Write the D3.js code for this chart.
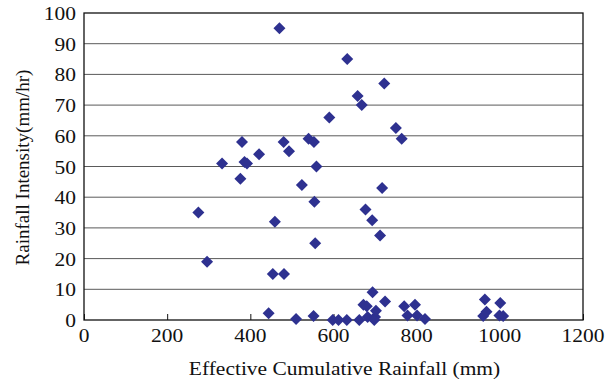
<!DOCTYPE html>
<html>
<head>
<meta charset="utf-8">
<script src="https://cdn.jsdelivr.net/npm/d3@7"></script>
<style>
  body { margin: 0; background: #fff; }
  text { font-family: "Liberation Serif", "Times New Roman", serif; fill: #111; }
</style>
</head>
<body>
<div id="chart"></div>
<script>
// Effective cumulative rainfall (mm)
const rainfall = [275, 296, 332, 376, 380, 386, 392, 421, 444, 454, 459, 470, 480, 481, 493,
  510, 524, 540, 552, 554, 553, 556, 559, 590, 598, 612, 632, 633, 658, 662, 668,
  672, 677, 680, 682, 694, 693, 700, 698, 702, 712, 717, 722, 724, 750, 764,
  770, 778, 796, 801, 820, 964, 960, 968, 1001, 999, 1008];
// Rainfall intensity (mm/hr)
const intensity = [35, 19, 51, 46, 58, 51.5, 51, 54, 2.2, 15, 32, 95, 58, 15, 55,
  0.3, 44, 59, 1.3, 38.5, 58, 25, 50, 66, 0, 0, 0, 85, 73, 0, 70,
  5, 36, 4.5, 1, 9, 32.5, 1, 0, 3, 27.5, 43, 77, 6, 62.5, 59,
  4.5, 1.5, 5, 1.5, 0.3, 6.7, 1.3, 2.7, 5.5, 1.5, 1.3];
const xTicks = [0, 200, 400, 600, 800, 1000, 1200];
const yTicks = [0, 10, 20, 30, 40, 50, 60, 70, 80, 90, 100];

const width = 608, height = 381;
const margin = {top: 13, right: 25, bottom: 61, left: 84};
const stretch = 1.13; // the original picture is a little wider than tall

const svg = d3.select("#chart").append("svg")
    .attr("width", width)
    .attr("height", height);

const x = d3.scaleLinear().domain([0, 1200]).range([margin.left, width - margin.right]);
const y = d3.scaleLinear().domain([0, 100]).range([height - margin.bottom, margin.top]);

// gridlines
svg.append("g")
    .selectAll("line")
    .data(yTicks.slice(1, -1))
    .join("line")
    .attr("x1", x(0)).attr("x2", x(1200))
    .attr("y1", d => y(d)).attr("y2", d => y(d))
    .attr("stroke", "#5a5a5a")
    .attr("stroke-width", 1);

// frame
svg.append("rect")
    .attr("x", x(0)).attr("y", y(100))
    .attr("width", x(1200) - x(0))
    .attr("height", y(0) - y(100))
    .attr("fill", "none")
    .attr("stroke", "#111")
    .attr("stroke-width", 1.3);

// x axis: ticks pointing inward
const xAxis = svg.append("g")
    .attr("transform", `translate(0,${y(0)})`)
    .call(d3.axisTop(x).tickValues(xTicks).tickSize(6).tickFormat(""));
xAxis.select(".domain").remove();
xAxis.selectAll("line").attr("stroke", "#111");

svg.append("g")
    .selectAll("text")
    .data(xTicks)
    .join("text")
    .attr("transform", d => `translate(${x(d)},${y(0) + 22}) scale(${stretch},1)`)
    .attr("text-anchor", "middle")
    .attr("font-size", "19px")
    .text(d => d);

svg.append("g")
    .selectAll("text")
    .data(yTicks)
    .join("text")
    .attr("transform", d => `translate(${x(0) - 8},${y(d) + 7}) scale(${stretch},1)`)
    .attr("text-anchor", "end")
    .attr("font-size", "19px")
    .text(d => d);

// axis titles
svg.append("text")
    .attr("transform", `translate(${(x(0) + x(1200)) / 2 + 11},375) scale(${stretch},1)`)
    .attr("text-anchor", "middle")
    .attr("font-size", "19px")
    .text("Effective Cumulative Rainfall (mm)");

svg.append("text")
    .attr("transform", `translate(29,${(y(0) + y(100)) / 2 + 1}) rotate(-90)`)
    .attr("text-anchor", "middle")
    .attr("font-size", "19px")
    .text("Rainfall Intensity(mm/hr)");

// points
const diamond = d3.symbol().type(d3.symbolSquare).size(72);
svg.append("g")
    .selectAll("path")
    .data(rainfall.map((r, i) => [r, intensity[i]]))
    .join("path")
    .attr("d", diamond)
    .attr("transform", d => `translate(${x(d[0])},${y(d[1])}) rotate(45)`)
    .attr("fill", "#2e3190");
</script>
</body>
</html>
